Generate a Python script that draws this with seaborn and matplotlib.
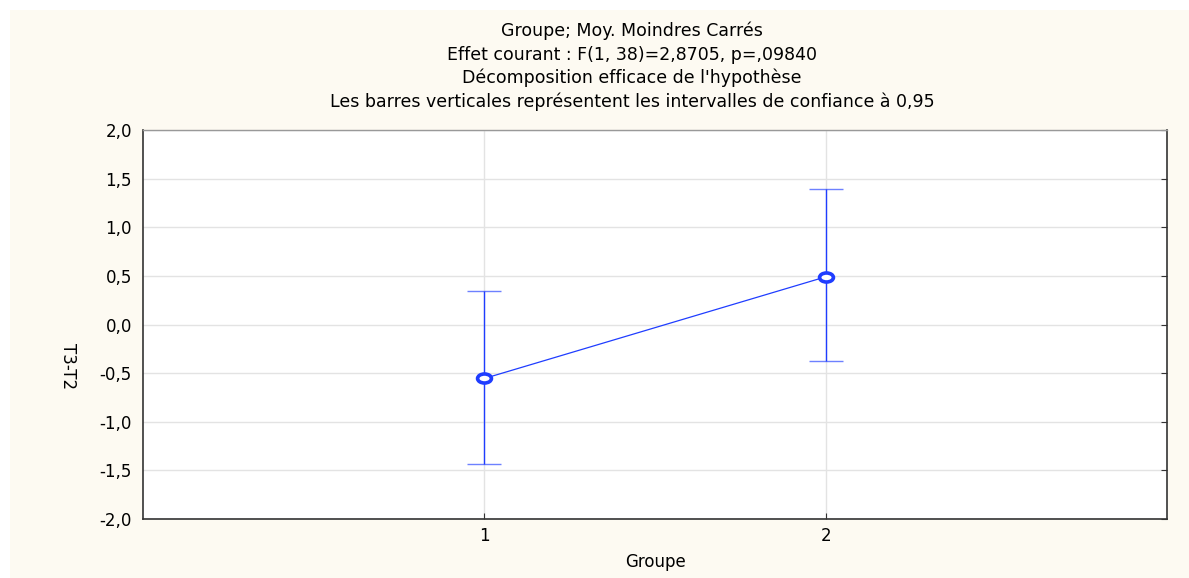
import numpy as np
import pandas as pd
import matplotlib
matplotlib.use("Agg")
import matplotlib.pyplot as plt
import seaborn as sns
from matplotlib.patches import Rectangle
from matplotlib.path import Path
from matplotlib.ticker import FuncFormatter

# data
groups = [1, 2]
means = [-0.555, 0.49]
ci_low = [-1.43, -0.38]
ci_high = [0.34, 1.39]

title_lines = [
    "Groupe; Moy. Moindres Carrés",
    "Effet courant : F(1, 38)=2,8705, p=,09840",
    "Décomposition efficace de l'hypothèse",
    "Les barres verticales représentent les intervalles de confiance à 0,95",
]

sns.set_style("white")
plt.rcParams['font.family'] = ['DejaVu Sans']
plt.rcParams['text.color'] = 'black'

BLUE = '#1f3dff'
W, H = 1189, 578

# flattened circle, like the original software's marker
circ = Path.unit_circle()
ellipse = Path(circ.vertices * np.array([1.0, 0.65]), circ.codes)

fig = plt.figure(figsize=(W / 100, H / 100), dpi=100, facecolor='white')
fig.patches.append(Rectangle((10 / W, 0), 1 - 10 / W, 1 - 10 / H,
                             transform=fig.transFigure, facecolor='#fdfaf2',
                             edgecolor='none', zorder=-10))
ax = fig.add_axes([143 / W, 1 - 519 / H, 1024 / W, 389 / H])
ax.set_facecolor('white')

df = pd.DataFrame({'Groupe': groups, 'T3-T2': means})
lo = np.array(means) - np.array(ci_low)
hi = np.array(ci_high) - np.array(means)

eb = ax.errorbar(groups, means, yerr=[lo, hi], fmt='none', ecolor=BLUE,
                 elinewidth=1.0, capsize=12, capthick=1.0, zorder=3)
for cap in eb[1]:
    cap.set_alpha(0.65)
sns.lineplot(data=df, x='Groupe', y='T3-T2', ax=ax, color=BLUE, linewidth=0.9,
             marker=ellipse, markersize=10, markerfacecolor='white',
             markeredgecolor=BLUE, markeredgewidth=2.6, zorder=4)

ax.set_xlim(0, 3)
ax.set_ylim(-2, 2)
ax.set_xticks([1, 2])
ax.set_yticks(np.arange(-2, 2.01, 0.5))
ax.yaxis.set_major_formatter(FuncFormatter(lambda v, p: f"{v:.1f}".replace('.', ',')))
ax.grid(True, color='#e3e3e3', linewidth=1.0)
ax.set_axisbelow(True)

ax.tick_params(axis='both', direction='in', length=4, color='#333333',
               right=True, left=True, bottom=True, pad=6,
               labelsize=12, labelcolor='black', labelfontfamily='DejaVu Sans')
ax.tick_params(axis='y', left=False, pad=8)

for side in ['left', 'bottom', 'right']:
    ax.spines[side].set_color('#333333')
    ax.spines[side].set_linewidth(1.2)
ax.spines['top'].set_color('#999999')
ax.spines['top'].set_linewidth(1.0)

ax.set_xlabel('')
ax.set_ylabel('')
fig.text(656 / W, 1 - 562 / H, 'Groupe', ha='center', va='center', fontsize=12)
fig.text(68 / W, 1 - 366 / H, 'T3-T2', ha='center', va='center', fontsize=12,
         rotation=270)

for i, line in enumerate(title_lines):
    fig.text(632 / W, 1 - (31 + i * 23.5) / H, line, ha='center', va='center',
             fontsize=12.5)

fig.savefig('out.png', dpi=100, facecolor=fig.get_facecolor())
